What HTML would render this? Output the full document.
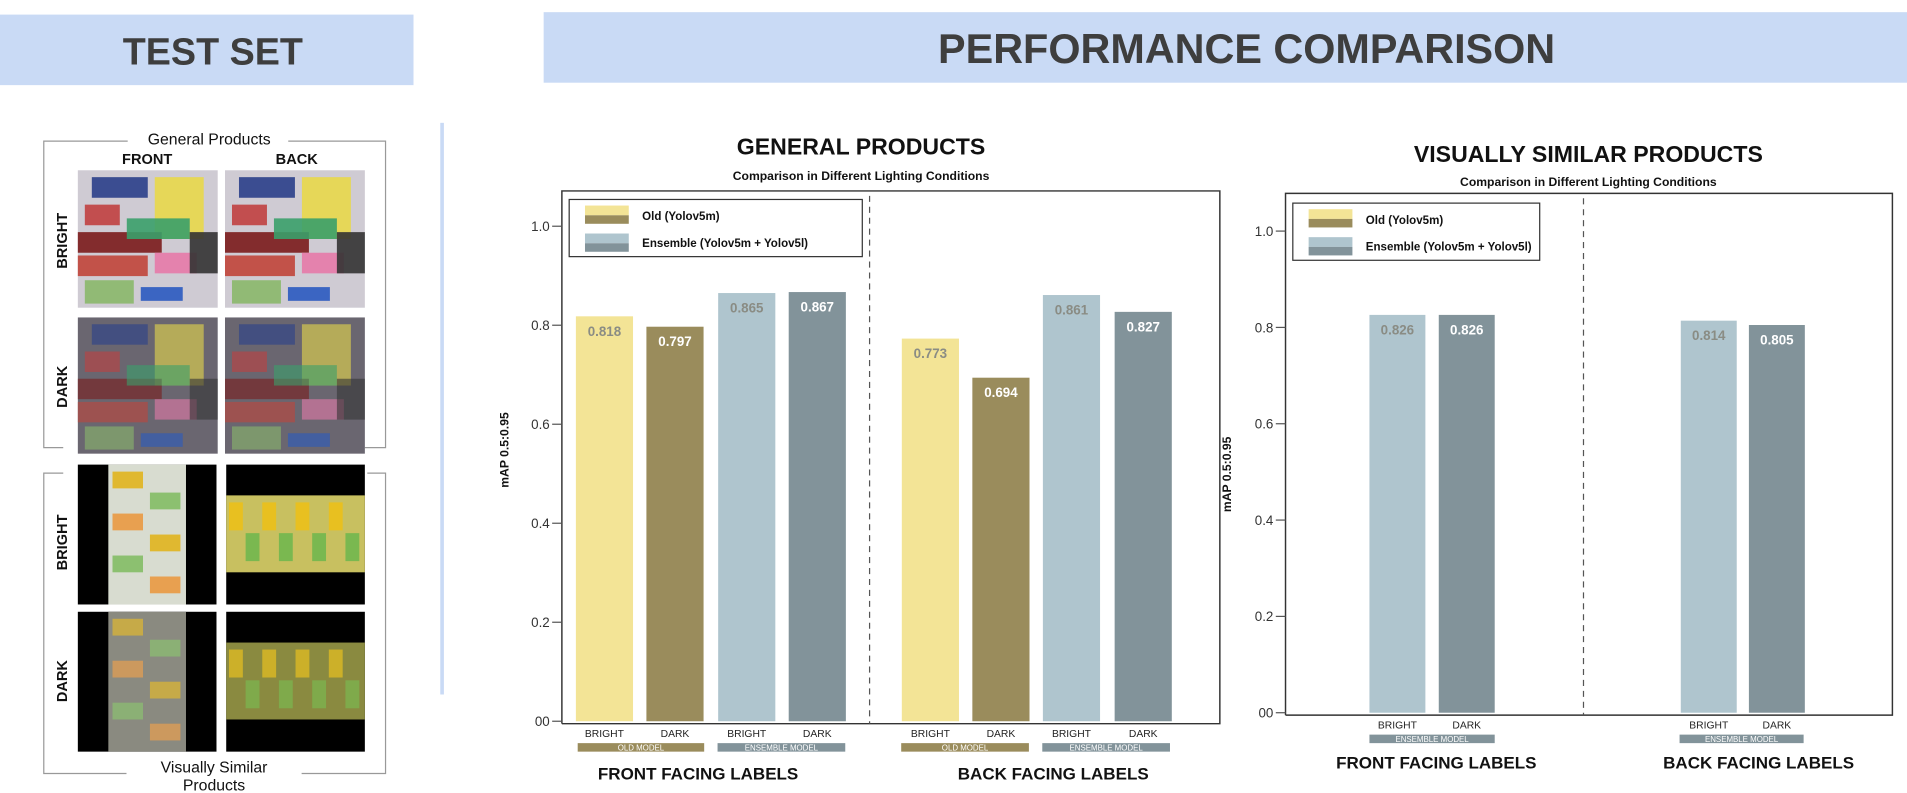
<!DOCTYPE html>
<html><head><meta charset="utf-8">
<style>
html,body{margin:0;padding:0;background:#fff;}
svg{display:block;font-family:"Liberation Sans",sans-serif;}
</style></head>
<body>
<svg id="root" width="1907" height="793" viewBox="0 0 1568 652" preserveAspectRatio="none">
  <!-- LEFT PANEL -->
  <g>
    <rect x="0" y="12" width="340" height="58" fill="#c9daf5"/>
    <text x="175" y="53" text-anchor="middle" font-size="31" font-weight="bold" fill="#3e3e3e">TEST SET</text>
    <rect x="362" y="101" width="3" height="470" fill="#c9daf5"/>
    <g fill="none" stroke="#999" stroke-width="1">
      <path d="M105,116 H36 V368 H52 M237,116 H317 V368 H300"/>
      <path d="M52,389 H36 V636 H104 M248,636 H317 V389 H302"/>
    </g>
    <text x="172" y="119" text-anchor="middle" font-size="13" fill="#111">General Products</text>
    <text x="121" y="135" text-anchor="middle" font-size="12" font-weight="bold" fill="#111">FRONT</text>
    <text x="244" y="135" text-anchor="middle" font-size="12" font-weight="bold" fill="#111">BACK</text>
    <text transform="translate(55,198) rotate(-90)" text-anchor="middle" font-size="12" font-weight="bold" fill="#111">BRIGHT</text>
    <text transform="translate(55,318) rotate(-90)" text-anchor="middle" font-size="12" font-weight="bold" fill="#111">DARK</text>
    <text transform="translate(55,446) rotate(-90)" text-anchor="middle" font-size="12" font-weight="bold" fill="#111">BRIGHT</text>
    <text transform="translate(55,560) rotate(-90)" text-anchor="middle" font-size="12" font-weight="bold" fill="#111">DARK</text>
    <text x="176" y="635" text-anchor="middle" font-size="13" fill="#111">Visually Similar</text>
    <text x="176" y="650" text-anchor="middle" font-size="13" fill="#111">Products</text>
    <g id="photos"></g>
  </g>

  <!-- RIGHT HEADER -->
  <rect x="447" y="10" width="1121" height="58" fill="#c9daf5"/>
  <text x="1025" y="52" text-anchor="middle" font-size="34" font-weight="bold" fill="#3e3e3e">PERFORMANCE COMPARISON</text>

  <g id="chart1"></g>
  <g id="chart2"></g>
</svg>
<script>
// ---- chart data ----
const categories = ["BRIGHT","DARK","BRIGHT","DARK"];
const generalFront = [0.818, 0.797, 0.865, 0.867];
const generalBack  = [0.773, 0.694, 0.861, 0.827];
const similarFront = [0.826, 0.826];
const similarBack  = [0.814, 0.805];
const yTicks = [0, 0.2, 0.4, 0.6, 0.8, 1.0];
const yTickLabels = ["00","0.2","0.4","0.6","0.8","1.0"];
const groupLabels = ["FRONT FACING LABELS","BACK FACING LABELS"];

const NS="http://www.w3.org/2000/svg";
const COLORS={yl:"#f3e496",ol:"#9a8c5c",lb:"#afc5ce",gb:"#82939a"};
function mk(tag,attrs,parent,txt){const e=document.createElementNS(NS,tag);for(const k in attrs)e.setAttribute(k,attrs[k]);if(txt!==undefined)e.textContent=txt;parent.appendChild(e);return e;}

function drawChart(g,cfg){
  const y=v=>cfg.y0-(cfg.y0-cfg.y1)*v;
  let t=mk("text",{x:cfg.cx,y:cfg.titleY,"text-anchor":"middle","font-size":19,"font-weight":"bold",fill:"#111"},g,cfg.title);
  
  
  t=mk("text",{x:cfg.cx,y:cfg.subY,"text-anchor":"middle","font-size":10,"font-weight":"bold",fill:"#111"},g,"Comparison in Different Lighting Conditions");
  
  
  // frame
  const fr=mk("path",{d:`M${cfg.L},${cfg.B} V${cfg.T} H${cfg.R} V${cfg.B} H${cfg.L}`,fill:"none",stroke:"#333","stroke-width":1.2},g);
  
  
  const dv=mk("line",{x1:cfg.div,x2:cfg.div,y1:cfg.T+4,y2:cfg.B,stroke:"#555","stroke-dasharray":"5,4"},g);
  
  
  yTicks.forEach((v,i)=>{
    const tk=mk("line",{x1:cfg.L-8,x2:cfg.L,y1:y(v),y2:y(v),stroke:"#555"},g);
    
    
    const tl=mk("text",{x:cfg.L-10,y:y(v)+4,"text-anchor":"end","font-size":11,fill:"#333"},g,yTickLabels[i]);
    
    
  });
  const yt=mk("text",{transform:`translate(${cfg.ytX},${cfg.ytY}) rotate(-90)`,"text-anchor":"middle","font-size":10,"font-weight":"bold",fill:"#111"},g,"mAP 0.5:0.95");
  
  
  // legend
  const lg=mk("g",{},g);
  
  
  const lx=cfg.legX, ly=cfg.legY;
  mk("rect",{x:lx,y:ly,width:cfg.legW,height:47,fill:"#fff",stroke:"#333","stroke-width":1},lg);
  mk("rect",{x:lx+13,y:ly+5,width:36,height:8,fill:COLORS.yl},lg);
  mk("rect",{x:lx+13,y:ly+13,width:36,height:7,fill:COLORS.ol},lg);
  mk("rect",{x:lx+13,y:ly+28,width:36,height:8,fill:COLORS.lb},lg);
  mk("rect",{x:lx+13,y:ly+36,width:36,height:7,fill:COLORS.gb},lg);
  let le=mk("text",{x:lx+60,y:ly+17,"font-size":9.5,"font-weight":"bold",fill:"#111"},lg,"Old (Yolov5m)");
  
  
  le=mk("text",{x:lx+60,y:ly+39,"font-size":9.5,"font-weight":"bold",fill:"#111"},lg,"Ensemble (Yolov5m + Yolov5l)");
  
  
  // bars
  cfg.groups.forEach((grp,gi)=>{
    grp.values.forEach((v,i)=>{
      const cx=grp.centers[i], col=grp.colors[i];
      const r=mk("rect",{x:cx-cfg.bw/2,y:y(v),width:cfg.bw,height:y(0)-y(v),fill:COLORS[col]},g);
      
      
      const light=(col==="yl"||col==="lb");
      const vl=mk("text",{x:cx,y:y(v)+cfg.vOff,"text-anchor":"middle","font-size":11,"font-weight":"bold",fill:light?"#8a8c84":"#fff"},g,v.toFixed(3));
      
      
      const cl=mk("text",{x:cx,y:cfg.catY,"text-anchor":"middle","font-size":8.5,fill:"#222"},g,grp.cats[i]);
      
      
    });
    grp.bands.forEach(b=>{
      const br=mk("rect",{x:b.x0,y:cfg.bandY,width:b.x1-b.x0,height:7,fill:COLORS[b.c]},g);
      
      
      const bt=mk("text",{x:(b.x0+b.x1)/2,y:cfg.bandY+6,"text-anchor":"middle","font-size":6.5,fill:"#fff"},g,b.t);
      
      
    });
    const gl=mk("text",{x:grp.labelX,y:cfg.glY,"text-anchor":"middle","font-size":14,"font-weight":"bold",fill:"#111"},g,groupLabels[gi]);
    
    
  });
}

drawChart(document.getElementById('chart1'),{
  title:"GENERAL PRODUCTS",cx:708,titleY:127,subY:148,
  L:462,R:1003,T:157,B:595,y0:593,y1:186,div:715,bw:47,vOff:16,catY:606,bandY:611,glY:641,
  ytX:418,ytY:370,legX:468,legY:164,legW:241,
  groups:[
    {values:generalFront,cats:categories,centers:[497,555,614,672],colors:["yl","ol","lb","gb"],
     bands:[{x0:475,x1:579,c:"ol",t:"OLD MODEL"},{x0:590,x1:695,c:"gb",t:"ENSEMBLE MODEL"}],labelX:574},
    {values:generalBack,cats:categories,centers:[765,823,881,940],colors:["yl","ol","lb","gb"],
     bands:[{x0:741,x1:846,c:"ol",t:"OLD MODEL"},{x0:857,x1:962,c:"gb",t:"ENSEMBLE MODEL"}],labelX:866}
  ]});
drawChart(document.getElementById('chart2'),{
  title:"VISUALLY SIMILAR PRODUCTS",cx:1306,titleY:133,subY:153,
  L:1057,R:1556,T:159,B:588,y0:586,y1:190,div:1302,bw:46,vOff:16,catY:599,bandY:604,glY:632,
  ytX:1012,ytY:390,legX:1063,legY:167,legW:203,
  groups:[
    {values:similarFront,cats:["BRIGHT","DARK"],centers:[1149,1206],colors:["lb","gb"],
     bands:[{x0:1126,x1:1229,c:"gb",t:"ENSEMBLE MODEL"}],labelX:1181},
    {values:similarBack,cats:["BRIGHT","DARK"],centers:[1405,1461],colors:["lb","gb"],
     bands:[{x0:1381,x1:1483,c:"gb",t:"ENSEMBLE MODEL"}],labelX:1446}
  ]});

// photos (approximate)
const ph=document.getElementById('photos');
function photoGeneral(x,y,w,h,dark,name){
  const g=mk("g",{opacity:1},ph);
  
  
  mk("rect",{x:x,y:y,width:w,height:h,fill:dark?"#6a6670":"#cfcbd3"},g);
  const blobs=[[0.55,0.05,0.35,0.45,"#e8d84a"],[0.1,0.05,0.4,0.15,"#2a3f8a"],[0.0,0.45,0.6,0.15,"#7a1b1b"],[0.35,0.35,0.45,0.15,"#3aa06a"],[0.0,0.62,0.5,0.15,"#c0453a"],[0.55,0.6,0.3,0.15,"#e57aa8"],[0.05,0.8,0.35,0.17,"#8ab86a"],[0.45,0.85,0.3,0.1,"#2a5ac0"],[0.8,0.45,0.2,0.3,"#333"],[0.05,0.25,0.25,0.15,"#c04040"]];
  blobs.forEach(b=>mk("rect",{x:x+b[0]*w,y:y+b[1]*h,width:b[2]*w,height:b[3]*h,fill:b[4],opacity:dark?0.6:0.9},g));
}
function photoSimilar(x,y,w,h,dark,vertical,name){
  const g=mk("g",{},ph);
  
  
  mk("rect",{x:x,y:y,width:w,height:h,fill:"#000"},g);
  if(vertical){
    mk("rect",{x:x+w*0.22,y:y,width:w*0.56,height:h,fill:dark?"#8a8a80":"#d8dcd0"},g);
    for(let i=0;i<6;i++) mk("rect",{x:x+w*(0.25+(i%2)*0.27),y:y+h*(0.05+i*0.15),width:w*0.22,height:h*0.12,fill:i%3===0?"#e0b830":(i%3===1?"#8cc070":"#e8a050"),opacity:dark?0.7:1},g);
  } else {
    mk("rect",{x:x,y:y+h*0.22,width:w,height:h*0.55,fill:dark?"#8a8a40":"#c8c060"},g);
    for(let i=0;i<8;i++) mk("rect",{x:x+w*(0.02+i*0.12),y:y+h*(0.27+(i%2)*0.22),width:w*0.1,height:h*0.2,fill:i%2?"#7ab850":"#e8c020",opacity:dark?0.7:1},g);
  }
}
photoGeneral(64,140,115,113,false,'photo-front-bright');
photoGeneral(185,140,115,113,false,'photo-back-bright');
photoGeneral(64,261,115,112,true,'photo-front-dark');
photoGeneral(185,261,115,112,true,'photo-back-dark');
photoSimilar(64,382,114,115,false,true,'photo-similar-front-bright');
photoSimilar(186,382,114,115,false,false,'photo-similar-back-bright');
photoSimilar(64,503,114,115,true,true,'photo-similar-front-dark');
photoSimilar(186,503,114,115,true,false,'photo-similar-back-dark');
</script>
</body></html>
